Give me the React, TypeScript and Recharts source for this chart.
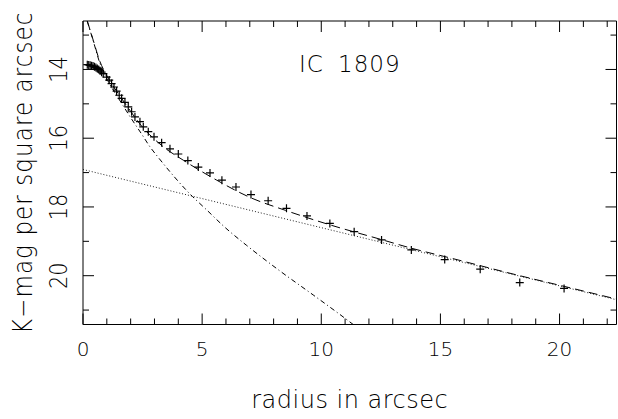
import React from 'react';
import { ComposedChart, XAxis, YAxis, Line, Scatter, Customized } from 'recharts';

// Canvas and plot frame
const W = 618;
const H = 419;
const AXIS_BOX = 30; // space reserved by bottom and left axes
const M = { top: 20, right: 0.5, bottom: 94.5 - AXIS_BOX, left: 83 - AXIS_BOX };
const PLOT_X0 = 83;
const PLOT_X1 = W - 1.5;
const PLOT_Y0 = 21;
const PLOT_Y1 = H - 94.5;
const PLOT_CX = (PLOT_X0 + PLOT_X1) / 2;
const PLOT_CY = (PLOT_Y0 + PLOT_Y1) / 2;

const FONT = '"DejaVu Sans", "Liberation Sans", sans-serif';

// Axis ranges (magnitudes increase downward)
const xDomain = [0, 22.39];
const yDomain = [12.59, 21.42];

// Tick positions and labelled values
const xTicks = [0, 1, 2, 3, 4, 5, 6, 7, 8, 9, 10, 11, 12, 13, 14, 15, 16, 17, 18, 19, 20, 21, 22];
const xTickLabels = [0, 5, 10, 15, 20];
const yTicks = [13, 14, 15, 16, 17, 18, 19, 20, 21];
const yTickLabels = [14, 16, 18, 20];

// Observed K-band surface brightness profile of IC 1809
const obsRadius = [
  0.18, 0.24, 0.3, 0.36, 0.42, 0.48, 0.54, 0.6, 0.66, 0.72, 0.78,
  0.85, 0.99, 1.1, 1.2, 1.3, 1.41, 1.52, 1.62, 1.76, 1.9, 2.04, 2.18,
  2.39, 2.53, 2.74, 2.98, 3.3, 3.65, 4.0, 4.4, 4.84, 5.33, 5.83, 6.42,
  7.05, 7.77, 8.54, 9.4, 10.36, 11.38, 12.53, 13.78, 15.18, 16.67, 18.33, 20.19,
];
const obsMag = [
  13.86, 13.87, 13.88, 13.89, 13.9, 13.92, 13.94, 13.97, 14.0, 14.04, 14.08,
  14.12, 14.22, 14.31, 14.41, 14.51, 14.63, 14.75, 14.84, 14.96, 15.09, 15.23, 15.38,
  15.52, 15.67, 15.81, 15.96, 16.13, 16.31, 16.46, 16.65, 16.84, 17.01, 17.22, 17.42,
  17.64, 17.82, 18.04, 18.26, 18.48, 18.72, 18.96, 19.25, 19.53, 19.81, 20.2, 20.37,
];

// Bulge + disk model (dashed)
const totalRadius = [0.18, 0.43, 0.7, 1.0, 1.5, 2.0, 2.5, 3.0, 3.37, 4.21, 5.61, 7.0, 8.5, 10.36, 12.53, 13.78, 15.39, 18.33, 20.19, 22.39];
const totalMag = [12.59, 13.15, 13.75, 14.18, 14.72, 15.22, 15.68, 16.03, 16.25, 16.64, 17.22, 17.72, 18.1, 18.52, 18.95, 19.2, 19.48, 20.0, 20.31, 20.68];

// Bulge component (dash-dot)
const bulgeRadius = [0.18, 0.43, 0.7, 1.0, 1.5, 2.0, 2.5, 2.81, 3.16, 4.6, 5.12, 6.0, 6.87, 8.26, 9.66, 10.92, 11.34];
const bulgeMag = [12.6, 13.17, 13.8, 14.27, 14.85, 15.4, 15.92, 16.25, 16.56, 17.7, 18.04, 18.62, 19.12, 19.86, 20.56, 21.2, 21.42];

// Exponential disk component (dotted)
const diskRadius = [0, 22.39];
const diskMag = [16.91, 20.7];

const zip = (rs: number[], ms: number[]) => rs.map((r, i) => ({ r, mag: ms[i] }));
const obsData = zip(obsRadius, obsMag);
const totalData = zip(totalRadius, totalMag);
const bulgeData = zip(bulgeRadius, bulgeMag);
const diskData = zip(diskRadius, diskMag);

const MAJOR = 11;
const MINOR = 6;

const BottomTick = (p: any) => {
  const v = p.payload.value;
  const major = xTickLabels.includes(v);
  const x = p.x;
  return (
    <g>
      <line x1={x} x2={x} y1={PLOT_Y1} y2={PLOT_Y1 - (major ? MAJOR : MINOR)} stroke="#000" strokeWidth={1} />
      {major && (
        <text x={x} y={PLOT_Y1 + 31} textAnchor="middle" fontFamily={FONT} fontWeight={300} fontSize={20} fill="#000">
          {v}
        </text>
      )}
    </g>
  );
};

const TopTick = (p: any) => {
  const v = p.payload.value;
  const major = xTickLabels.includes(v);
  return <line x1={p.x} x2={p.x} y1={PLOT_Y0} y2={PLOT_Y0 + (major ? MAJOR : MINOR)} stroke="#000" strokeWidth={1} />;
};

const LeftTick = (p: any) => {
  const v = p.payload.value;
  const major = yTickLabels.includes(v);
  const y = p.y;
  return (
    <g>
      <line x1={PLOT_X0} x2={PLOT_X0 + (major ? MAJOR : MINOR)} y1={y} y2={y} stroke="#000" strokeWidth={1} />
      {major && (
        <text
          transform={`translate(${PLOT_X0 - 16.3},${y}) rotate(-90) scale(1,1.15)`}
          textAnchor="middle"
          fontFamily={FONT}
          fontWeight={300}
          fontSize={21}
          fill="#000"
        >
          {v}
        </text>
      )}
    </g>
  );
};

const RightTick = (p: any) => {
  const v = p.payload.value;
  const major = yTickLabels.includes(v);
  return <line x1={PLOT_X1} x2={PLOT_X1 - (major ? MAJOR : MINOR)} y1={p.y} y2={p.y} stroke="#000" strokeWidth={1} />;
};

const Plus = (p: any) => {
  const { cx, cy } = p;
  if (cx == null || cy == null) return null;
  return (
    <g>
      <line x1={cx - 4} x2={cx + 4} y1={cy} y2={cy} stroke="#000" strokeWidth={1.2} />
      <line x1={cx} x2={cx} y1={cy - 4} y2={cy + 4} stroke="#000" strokeWidth={1.2} />
    </g>
  );
};

const Texts = () => (
  <g fontFamily={FONT} fontWeight={300} fill="#000">
    <text x={PLOT_CX} y={72} textAnchor="middle" fontSize={23} letterSpacing={1}>
      <tspan>IC</tspan>
      <tspan dx={6}> 1809</tspan>
    </text>
    <text x={PLOT_CX} y={408} textAnchor="middle" fontSize={24} letterSpacing={0.5}>
      radius in arcsec
    </text>
    <text
      transform={`translate(32,${PLOT_CY}) rotate(-90) scale(1,1.15)`}
      textAnchor="middle"
      fontSize={23}
      letterSpacing={1.1}
    >
      K−mag per square arcsec
    </text>
  </g>
);

const axisLine = { stroke: '#000', strokeWidth: 1 };

export default function App() {
  return (
    <div style={{ position: 'absolute', left: 0, top: 0, width: W, height: H, background: '#fff' }}>
      <ComposedChart width={W} height={H} margin={M}>
        <XAxis
          xAxisId="b"
          dataKey="r"
          type="number"
          orientation="bottom"
          domain={xDomain}
          ticks={xTicks}
          interval={0}
          allowDataOverflow
          height={AXIS_BOX}
          tickSize={0}
          tickMargin={0}
          tickLine={false}
          axisLine={axisLine}
          tick={BottomTick}
        />
        <XAxis
          xAxisId="t"
          dataKey="r"
          type="number"
          orientation="top"
          domain={xDomain}
          ticks={xTicks}
          interval={0}
          allowDataOverflow
          height={1}
          tickSize={0}
          tickMargin={0}
          tickLine={false}
          axisLine={axisLine}
          tick={TopTick}
        />
        <YAxis
          yAxisId="l"
          dataKey="mag"
          type="number"
          orientation="left"
          domain={yDomain}
          reversed
          ticks={yTicks}
          interval={0}
          allowDataOverflow
          width={AXIS_BOX}
          tickSize={0}
          tickMargin={0}
          tickLine={false}
          axisLine={axisLine}
          tick={LeftTick}
        />
        <YAxis
          yAxisId="r"
          dataKey="mag"
          type="number"
          orientation="right"
          domain={yDomain}
          reversed
          ticks={yTicks}
          interval={0}
          allowDataOverflow
          width={1}
          tickSize={0}
          tickMargin={0}
          tickLine={false}
          axisLine={axisLine}
          tick={RightTick}
        />
        <Line
          xAxisId="b"
          yAxisId="l"
          data={diskData}
          dataKey="mag"
          type="linear"
          stroke="#222"
          strokeWidth={1}
          strokeDasharray="1 2"
          dot={false}
          isAnimationActive={false}
        />
        <Line
          xAxisId="b"
          yAxisId="l"
          data={bulgeData}
          dataKey="mag"
          type="monotone"
          stroke="#000"
          strokeWidth={1}
          strokeDasharray="5 3 1 3"
          dot={false}
          isAnimationActive={false}
        />
        <Line
          xAxisId="b"
          yAxisId="l"
          data={totalData}
          dataKey="mag"
          type="monotone"
          stroke="#000"
          strokeWidth={1}
          strokeDasharray="9 5"
          dot={false}
          isAnimationActive={false}
        />
        <Scatter
          xAxisId="b"
          yAxisId="l"
          data={obsData}
          dataKey="mag"
          shape={Plus}
          isAnimationActive={false}
        />
        <Customized component={Texts} />
      </ComposedChart>
    </div>
  );
}
